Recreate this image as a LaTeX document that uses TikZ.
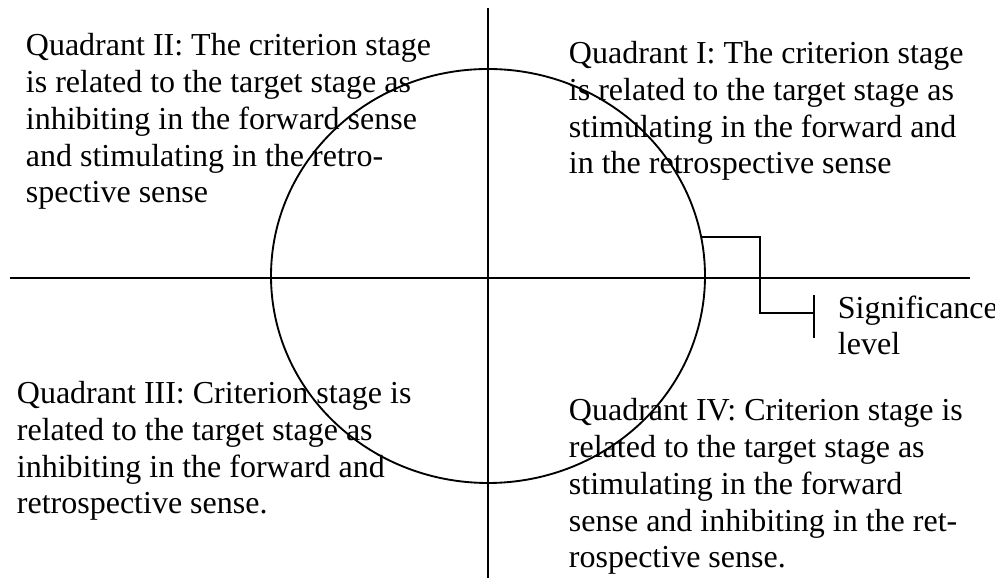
\documentclass[tikz,border=0pt]{standalone}
\usepackage{fontspec}
\setmainfont{Liberation Serif}
\usepackage{tikz}
\usetikzlibrary{arrows.meta, calc, positioning}

\begin{document}
\begin{tikzpicture}[x=0.375pt, y=-0.375pt, line width=0.7pt,
  quad/.style={anchor=base west, align=left, inner sep=0pt,
    font=\fontsize{12}{13.8}\selectfont}]
  \useasboundingbox (0,0) rectangle (995,579);
  % axes and the significance circle
  \draw (10,278) -- (970,278);
  \draw (488,8) -- (488,578);
  \draw (488,276) ellipse [x radius=217, y radius=207];
  % texts sit on the baseline of their last line
  \node[quad] (q2) at (25,203) {Quadrant II: The criterion stage\\is related to the target stage as\\inhibiting in the forward sense\\and stimulating in the retro-\\spective sense};
  \node[quad] (q1) at (568,174) {Quadrant I: The criterion stage\\is related to the target stage as\\stimulating in the forward and\\in the retrospective sense};
  \node[quad] (q3) at (16,514) {Quadrant III: Criterion stage is\\related to the target stage as\\inhibiting in the forward and\\retrospective sense.};
  \node[quad] (q4) at (568,568) {Quadrant IV: Criterion stage is\\related to the target stage as\\stimulating in the forward\\sense and inhibiting in the ret-\\rospective sense.};
  \node[quad] (sig) at (837,355) {Significance\\level};
  % pointer from the circle to the label
  \coordinate (edge) at (702,237);
  \coordinate (tick) at (814,313);
  \draw (edge) -| (760,313) -- (tick);
  \draw (tick) ++(0,-18) -- ++(0,43);
\end{tikzpicture}
\end{document}
